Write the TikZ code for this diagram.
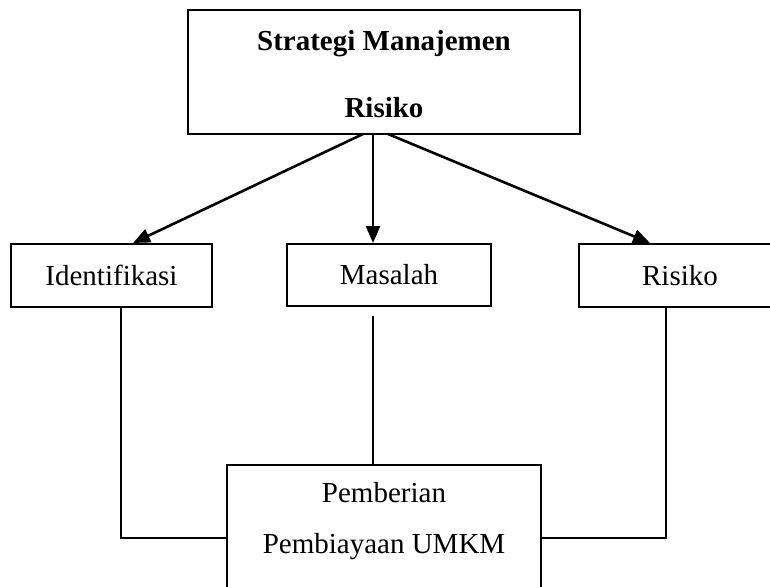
\documentclass[tikz,border=0pt]{standalone}
\usepackage{fontspec}
\setmainfont{Liberation Serif}
\usetikzlibrary{arrows.meta}
\tikzset{
  box/.style={draw=black, line width=2pt, rectangle, inner sep=0pt, fill=white},
  txt/.style={font=\fontsize{29}{34}\selectfont, inner sep=0pt, anchor=base},
  btxt/.style={font=\fontsize{29}{34}\selectfont\bfseries, inner sep=0pt, anchor=base},
  conn/.style={draw=black, line width=2pt},
  arr/.style={draw=black, line width=2.6pt, -{Triangle[length=17pt,width=14pt]}}
}
\begin{document}
\begin{tikzpicture}[x=1pt,y=-1pt]
\useasboundingbox (0,0) rectangle (770,586);
\clip (0,0) rectangle (770,586);
\fill[white] (0,0) rectangle (770,586);
% top box
\node[box, minimum width=392pt, minimum height=124pt] (top) at (384,72) {};
\node[btxt] (t1) at (384,50) {Strategi Manajemen};
\node[btxt] (t2) at (384,117) {Risiko};
% middle boxes
\node[box, minimum width=201pt, minimum height=63pt, font=\fontsize{29}{34}\selectfont] (ident) at (111.5,275.5) {Identifikasi};
\node[box, minimum width=204pt, minimum height=62pt, font=\fontsize{29}{34}\selectfont] (masalah) at (389,275) {Masalah};
\node[box, minimum width=202pt, minimum height=63pt, font=\fontsize{29}{34}\selectfont] (risiko) at (680,275.5) {Risiko};
% bottom box
\node[box, minimum width=314pt, minimum height=160pt, anchor=north] (pb) at (384,464) {};
\node[txt] (p1) at (384,502) {Pemberian};
\node[txt] (p2) at (384,553) {Pembiayaan UMKM};
% coordinates
\coordinate (sL) at (363,134);
\coordinate (sM) at (373,134);
\coordinate (sR) at (388,134);
\coordinate (eL) at (133,244);
\coordinate (eR) at (650,244);
\coordinate (jl) at (121,538);
\coordinate (jr) at (666,538);
\coordinate (mtop) at (373,316);
% arrows
\draw[arr] (sL) -- (ident.north -| eL);
\draw[arr] (sM) -- (masalah.north -| sM);
\draw[arr] (sR) -- (risiko.north -| eR);
% connectors
\draw[conn] (ident.south -| jl) -- (jl) -- (pb.west |- jl);
\draw[conn] (mtop) -- (pb.north -| mtop);
\draw[conn] (risiko.south -| jr) -- (jr) -- (pb.east |- jr);
\end{tikzpicture}
\end{document}
